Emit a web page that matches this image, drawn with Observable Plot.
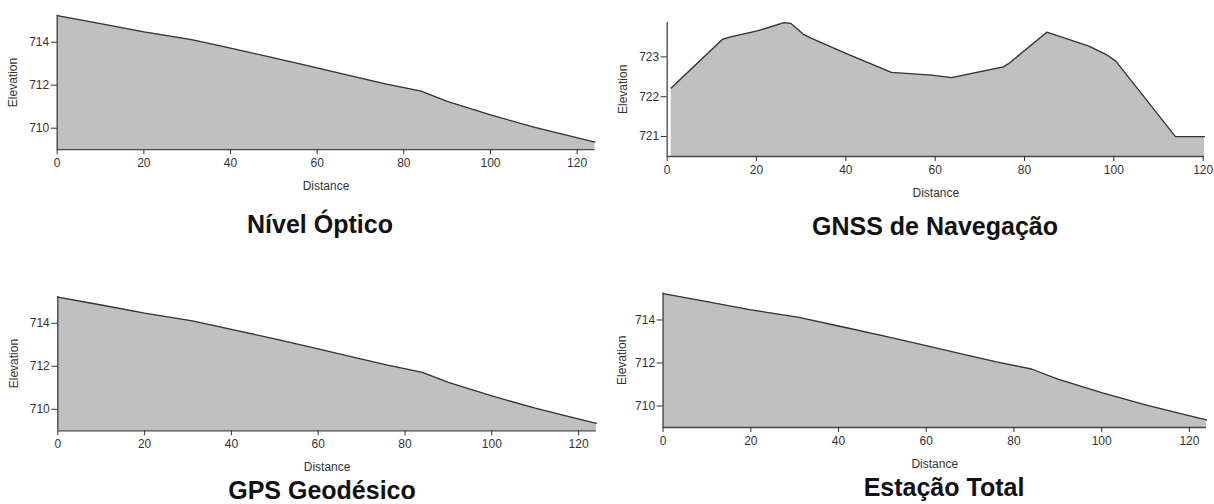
<!DOCTYPE html>
<html><head><meta charset="utf-8">
<script src="https://cdn.jsdelivr.net/npm/d3@7"></script>
<script src="https://cdn.jsdelivr.net/npm/@observablehq/plot@0.6"></script>
<style>
html,body{margin:0;padding:0;background:#fff}
body{width:1214px;height:504px;overflow:hidden;position:relative;font-family:Arial,"Liberation Sans",sans-serif}
.panel{position:absolute}
.title{position:absolute;font-weight:bold;font-size:25px;line-height:25px;color:#111;white-space:nowrap;transform:translateX(-50%)}
</style></head><body>
<script>
// ---- data ----
const xTicks = [0, 20, 40, 60, 80, 100, 120];

const nivelDistance  = [0, 10, 20, 31, 40, 50, 58, 70, 76, 84, 90, 100, 110, 118, 124.1];
const nivelElevation = [715.24, 714.86, 714.48, 714.12, 713.72, 713.27, 712.9, 712.33, 712.05, 711.72, 711.25, 710.62, 710.05, 709.65, 709.35];
const nivelTicks = [710, 712, 714];

const gnssDistance  = [0.9, 12.4, 14.2, 20.2, 26.2, 27.7, 30.7, 32.2, 40.4, 50.2, 59.2, 63.7, 75.3, 76.8, 85.0, 94.4, 98.1, 100.4, 113.8, 120.3];
const gnssElevation = [722.22, 723.44, 723.5, 723.65, 723.86, 723.84, 723.55, 723.47, 723.07, 722.61, 722.54, 722.48, 722.75, 722.86, 723.62, 723.27, 723.07, 722.9, 721.0, 721.0];
const gnssTicks = [721, 722, 723];

const gpsDistance  = [0, 10, 20, 31, 40, 50, 58, 70, 76, 84, 90, 100, 110, 118, 124.1];
const gpsElevation = [715.22, 714.85, 714.47, 714.11, 713.72, 713.27, 712.9, 712.33, 712.05, 711.72, 711.25, 710.62, 710.05, 709.65, 709.35];
const gpsTicks = [710, 712, 714];

const estacaoDistance  = [0, 10, 20, 31, 40, 50, 58, 70, 76, 84, 90, 100, 110, 118, 123.9];
const estacaoElevation = [715.23, 714.85, 714.47, 714.12, 713.72, 713.27, 712.9, 712.33, 712.05, 711.72, 711.25, 710.62, 710.05, 709.65, 709.35];
const estacaoTicks = [710, 712, 714];

const titles = ["Nível Óptico", "GNSS de Navegação", "GPS Geodésico", "Estação Total"];

// ---- layout ----
const panels = [
  {d: nivelDistance, e: nivelElevation, yt: nivelTicks, title: titles[0],
   left: 0, top: 0, width: 610, height: 200, mL: 56.7, mR: 15.6, mT: 14.8, mB: 50.8,
   xd: [0, 124.1], yd: [709, 715.25], yOff: 48.7, tx: 320, ty: 212},
  {d: gnssDistance, e: gnssElevation, yt: gnssTicks, title: titles[1],
   left: 610, top: 0, width: 604, height: 200, mL: 56.7, mR: 10, mT: 21.7, mB: 44,
   xd: [0, 120.3], yd: [720.5, 723.87], yOff: 48.7, tx: 935, ty: 214},
  {d: gpsDistance, e: gpsElevation, yt: gpsTicks, title: titles[2],
   left: 0, top: 280, width: 610, height: 200, mL: 57.3, mR: 14.1, mT: 15.9, mB: 49.7,
   xd: [0, 124.1], yd: [709, 715.25], yOff: 48.5, tx: 322, ty: 478},
  {d: estacaoDistance, e: estacaoElevation, yt: estacaoTicks, title: titles[3],
   left: 610, top: 280, width: 604, height: 200, mL: 52.6, mR: 8, mT: 12.6, mB: 53,
   xd: [0, 123.9], yd: [709, 715.25], yOff: 46, tx: 944, ty: 475}
];

for (const p of panels) {
  const rows = p.d.map((d, i) => ({d, e: p.e[i]}));
  const yMin = p.yd[0];
  const chart = Plot.plot({
    width: p.width, height: p.height,
    marginLeft: p.mL, marginRight: p.mR, marginTop: p.mT, marginBottom: p.mB,
    style: {fontFamily: "Arial, 'Liberation Sans', sans-serif", fontSize: "12px", color: "#333", background: "transparent"},
    x: {domain: p.xd},
    y: {domain: p.yd},
    marks: [
      Plot.areaY(rows, {x: "d", y1: () => yMin, y2: "e", fill: "#c0c0c0"}),
      Plot.lineY(rows, {x: "d", y: "e", stroke: "#333", strokeWidth: 1.3}),
      Plot.ruleX([0], {stroke: "#444", strokeWidth: 1.3}),
      Plot.ruleY([yMin], {stroke: "#444", strokeWidth: 1.3}),
      Plot.axisX({ticks: xTicks, tickFormat: d3.format("d"), tickSize: 5, tickPadding: 4, label: "Distance", labelAnchor: "center", labelArrow: "none", labelOffset: 40}),
      Plot.axisY({ticks: p.yt, tickFormat: d3.format("d"), tickSize: 6, tickPadding: 2, label: "Elevation", labelAnchor: "center", labelArrow: "none", labelOffset: p.yOff})
    ]
  });
  const div = document.createElement("div");
  div.className = "panel";
  div.style.left = p.left + "px";
  div.style.top = p.top + "px";
  div.appendChild(chart);
  document.body.appendChild(div);
  const t = document.createElement("div");
  t.className = "title";
  t.textContent = p.title;
  t.style.left = p.tx + "px";
  t.style.top = p.ty + "px";
  document.body.appendChild(t);
}
</script>
</body></html>
